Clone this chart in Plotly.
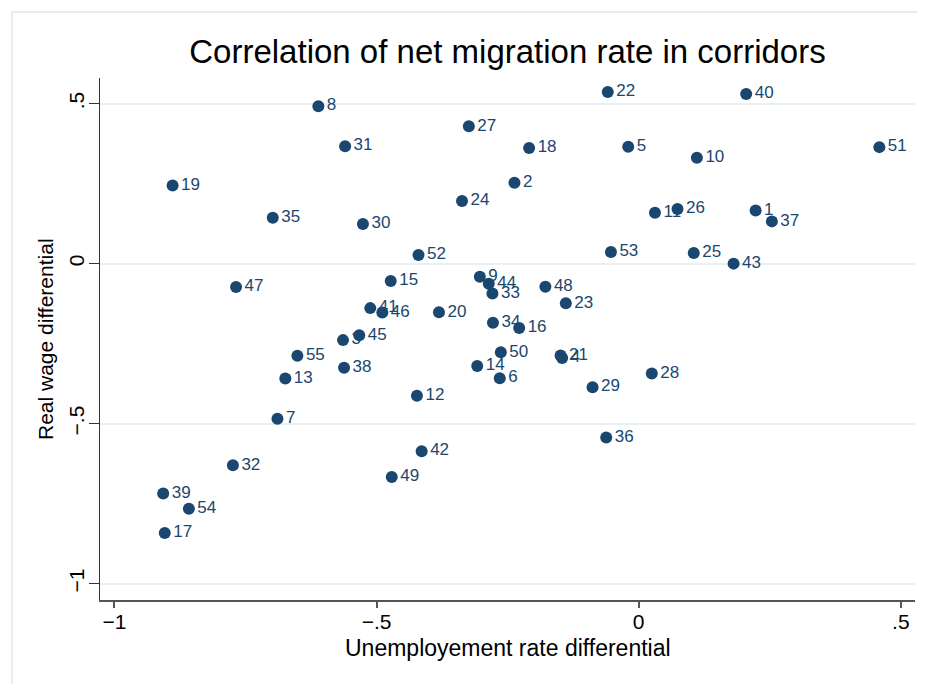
import plotly.graph_objects as go

labels = [str(i) for i in range(1, 56)]
unemp_diff = [
    0.223, -0.237, -0.564, -0.146, -0.020, -0.265, -0.689, -0.611, -0.303, 0.111,
    0.031, -0.423, -0.674, -0.308, -0.473, -0.228, -0.904, -0.209, -0.889, -0.381,
    -0.149, -0.059, -0.139, -0.337, 0.105, 0.074, -0.324, 0.025, -0.088, -0.526,
    -0.560, -0.774, -0.279, -0.278, -0.698, -0.062, 0.254, -0.562, -0.907, 0.205,
    -0.512, -0.414, 0.181, -0.286, -0.533, -0.489, -0.768, -0.178, -0.471, -0.263,
    0.459, -0.420, -0.053, -0.858, -0.651,
]
wage_diff = [
    0.166, 0.253, -0.239, -0.295, 0.365, -0.358, -0.485, 0.492, -0.041, 0.331,
    0.159, -0.413, -0.359, -0.320, -0.054, -0.201, -0.842, 0.361, 0.244, -0.152,
    -0.287, 0.536, -0.124, 0.196, 0.033, 0.171, 0.429, -0.343, -0.386, 0.124,
    0.367, -0.630, -0.093, -0.185, 0.143, -0.543, 0.132, -0.325, -0.718, 0.530,
    -0.139, -0.586, 0.000, -0.063, -0.224, -0.153, -0.073, -0.072, -0.667, -0.277,
    0.364, 0.027, 0.036, -0.766, -0.288,
]

x_ticks = [-1, -0.5, 0, 0.5]
x_ticktext = ["\u22121", "\u2212.5", "0", ".5"]
y_ticks = [-1, -0.5, 0, 0.5]
y_ticktext = ["\u22121", "\u2212.5", "0", ".5"]

navy = "#1a476f"
red = "#c10534"
font_family = "Liberation Sans, Arial, sans-serif"

# page body has an 8px margin; figure sized so the plot area lands at
# x 100..915, y 78..600 in the 925x684 window
W, H = 917, 676
ML, MR, MT, MB = 92, 10, 70, 84
PW, PH = W - ML - MR, H - MT - MB

fig = go.Figure()
fig.add_trace(go.Scatter(
    x=unemp_diff, y=wage_diff, mode="markers+text", text=labels,
    textposition="middle right",
    textfont=dict(color=navy, size=17, family=font_family),
    marker=dict(color=navy, size=12),
    showlegend=False, cliponaxis=False,
))

fig.add_hline(y=0, line=dict(color=red, width=2))
fig.add_vline(x=0, line=dict(color=red, width=2))

fig.update_layout(
    width=W, height=H,
    margin=dict(l=ML, r=MR, t=MT, b=MB),
    paper_bgcolor="white", plot_bgcolor="white",
    font=dict(family=font_family, color="black"),
    title=dict(text="Correlation of net migration rate in corridors",
               x=0.5, xref="paper", y=1 - 43 / H, yref="container",
               xanchor="center", yanchor="middle",
               font=dict(size=33, color="black", family=font_family)),
    xaxis=dict(range=[-1.0275, 0.527], tickvals=x_ticks, ticktext=x_ticktext,
               showgrid=False, zeroline=False, showline=True, linecolor="#555555",
               linewidth=2, ticks="outside", ticklen=6, tickcolor="#555555",
               tickwidth=1.5, automargin=False, ticklabelstandoff=-4,
               tickfont=dict(size=21, color="black")),
    yaxis=dict(range=[-1.051, 0.580], tickvals=y_ticks, ticktext=y_ticktext,
               showgrid=True, gridcolor="#eaf0f2", gridwidth=1.5, zeroline=False,
               showline=True, linecolor="#333333", linewidth=1, ticks="outside",
               ticklen=10, tickcolor="#333333", tickangle=-90, automargin=False,
               ticklabelstandoff=-3,
               tickfont=dict(size=21, color="black")),
    annotations=[
        dict(text="Unemployement rate differential", xref="paper", yref="paper",
             x=0.5, y=(MB - (640 - (H - MB - 0))) / PH if False else -48 / PH,
             xanchor="center", yanchor="middle", showarrow=False,
             font=dict(size=23, color="black")),
        dict(text="Real wage differential", xref="paper", yref="paper",
             x=(37 - ML) / PW, y=0.5, textangle=-90,
             xanchor="center", yanchor="middle", showarrow=False,
             font=dict(size=21, color="black")),
    ],
    shapes=[dict(type="rect", xref="paper", yref="paper",
                 x0=(4 - ML) / PW, x1=1 + 20 / PW, y0=-(MB + 20) / PH,
                 y1=1 + (MT - 4) / PH,
                 line=dict(color="#e6ecef", width=1.5), fillcolor="rgba(0,0,0,0)",
                 layer="below")],
)

fig.write_html("out.html")
